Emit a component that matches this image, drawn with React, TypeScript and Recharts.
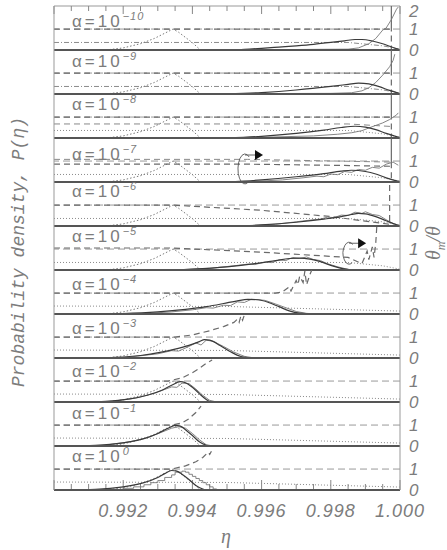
import { LineChart, Line, XAxis, YAxis, ReferenceLine, ReferenceDot } from "recharts";

type Pt = { x: number; y: number };
const P = (x: number, y: number): Pt => ({ x, y });

// eta axis
const etaDomain = [0.99, 1.0];
const etaLabelTicks = [0.992, 0.994, 0.996, 0.998, 1.0];
const etaMajorTicks = [0.990, 0.992, 0.994, 0.996, 0.998, 1.0];
const etaMinorTicks = [
  0.9905, 0.991, 0.9915, 0.9925, 0.993, 0.9935, 0.9945, 0.995, 0.9955,
  0.9965, 0.997, 0.9975, 0.9985, 0.999, 0.9995,
];

const alphaExponents = ["−10", "−9", "−8", "−7", "−6", "−5", "−4", "−3", "−2", "−1", "0"];

// reference distribution (dotted), same in every panel
const dottedPeak = [
  P(0.9915, 0), P(0.992, 0.1), P(0.9925, 0.3), P(0.9929, 0.55), P(0.9932, 0.8),
  P(0.99344, 1.0), P(0.9936, 0.85), P(0.9938, 0.6), P(0.994, 0.35), P(0.9942, 0.05), P(0.99425, 0),
];
const dottedFlatTop = [P(0.99, 0.36), P(0.9985, 0.36), P(0.9995, 0.2), P(1.0, 0.04)];
const dottedFlatBottom = [P(0.99, 0.38), P(0.995, 0.36), P(1.0, 0.14)];

// smooth model curves
const smooth0 = [P(0.995, 0), P(0.9955, 0.03), P(0.996, 0.08), P(0.9965, 0.14), P(0.997, 0.2), P(0.9975, 0.27), P(0.998, 0.36), P(0.9984, 0.44), P(0.9987, 0.5), P(0.9989, 0.5), P(0.9992, 0.43), P(0.9995, 0.3), P(0.9998, 0.12), P(1.0, 0.02)];
const smooth1 = [P(0.995, 0), P(0.996, 0.07), P(0.997, 0.19), P(0.998, 0.36), P(0.9985, 0.46), P(0.9988, 0.52), P(0.9991, 0.48), P(0.9994, 0.35), P(0.9997, 0.17), P(1.0, 0.02)];
const smooth2 = [P(0.995, 0), P(0.996, 0.08), P(0.997, 0.22), P(0.9978, 0.38), P(0.9983, 0.5), P(0.9987, 0.56), P(0.999, 0.52), P(0.9993, 0.4), P(0.9996, 0.22), P(1.0, 0.02)];
const smooth3 = [P(0.995, 0), P(0.996, 0.1), P(0.997, 0.25), P(0.9978, 0.4), P(0.9983, 0.52), P(0.9986, 0.56), P(0.999, 0.5), P(0.9993, 0.38), P(0.9996, 0.2), P(1.0, 0.02)];
const smooth4 = [P(0.9953, 0), P(0.996, 0.05), P(0.997, 0.18), P(0.9978, 0.33), P(0.9983, 0.45), P(0.9986, 0.55), P(0.9988, 0.6), P(0.999, 0.58), P(0.9993, 0.45), P(0.9996, 0.25), P(0.9999, 0.06), P(1.0, 0.01)];
const smooth5 = [P(0.9934, 0), P(0.994, 0.04), P(0.995, 0.15), P(0.9958, 0.3), P(0.9964, 0.45), P(0.9968, 0.55), P(0.9971, 0.57), P(0.9974, 0.52), P(0.9977, 0.4), P(0.998, 0.22), P(0.9983, 0.08), P(0.9986, 0.01)];
const smooth6 = [P(0.9912, 0), P(0.992, 0.02), P(0.993, 0.1), P(0.9938, 0.22), P(0.9944, 0.35), P(0.9949, 0.5), P(0.9953, 0.63), P(0.9956, 0.7), P(0.9959, 0.68), P(0.9962, 0.55), P(0.9965, 0.35), P(0.9968, 0.15), P(0.9971, 0.04), P(0.9975, 0)];
const smooth7 = [P(0.991, 0), P(0.9918, 0.03), P(0.9925, 0.12), P(0.9931, 0.28), P(0.9935, 0.42), P(0.9939, 0.6), P(0.9942, 0.78), P(0.99435, 0.88), P(0.9945, 0.85), P(0.9948, 0.6), P(0.9951, 0.3), P(0.9954, 0.07), P(0.9957, 0)];
const smooth8 = [P(0.9908, 0), P(0.9915, 0.03), P(0.9922, 0.15), P(0.9927, 0.32), P(0.9931, 0.55), P(0.9934, 0.8), P(0.99365, 0.97), P(0.9938, 0.92), P(0.994, 0.7), P(0.9942, 0.4), P(0.9944, 0.12), P(0.9945, 0.02), P(0.9946, 0)];
const smooth9 = [P(0.9903, 0), P(0.9912, 0.03), P(0.992, 0.15), P(0.9926, 0.35), P(0.993, 0.6), P(0.9933, 0.85), P(0.9935, 0.98), P(0.99365, 0.95), P(0.9938, 0.78), P(0.994, 0.5), P(0.9942, 0.2), P(0.9944, 0.03), P(0.9945, 0)];
const smooth10 = [P(0.9903, 0), P(0.9912, 0.03), P(0.992, 0.15), P(0.9926, 0.35), P(0.993, 0.6), P(0.9932, 0.78), P(0.9934, 0.93), P(0.99355, 0.9), P(0.9937, 0.75), P(0.9939, 0.5), P(0.9941, 0.22), P(0.9943, 0.05), P(0.9944, 0)];

// simulation curves (thin, noisy)
const sim0 = [P(0.9955, 0), P(0.9975, 0.03), P(0.9985, 0.04), P(0.9988, 0.1), P(0.9991, 0.3), P(0.9993, 0.55), P(0.9995, 0.95), P(0.9996, 1.05), P(0.99975, 1.45), P(0.9999, 1.95), P(0.99995, 2.05)];
const sim1 = [P(0.996, 0.02), P(0.998, 0.03), P(0.9986, 0.06), P(0.9989, 0.15), P(0.9991, 0.3), P(0.9993, 0.55), P(0.9995, 0.9), P(0.9996, 1.1), P(0.9997, 1.3), P(0.9998, 1.6), P(0.99985, 1.9)];
const sim2 = [P(0.9955, 0.01), P(0.9975, 0.1), P(0.9982, 0.18), P(0.9986, 0.25), P(0.9989, 0.35), P(0.9991, 0.48), P(0.9993, 0.6), P(0.9995, 0.72), P(0.9997, 0.88), P(0.9999, 1.1), P(0.99995, 1.2)];
const sim3 = [P(0.9958, 0.03), P(0.9966, 0.1), P(0.9972, 0.2), P(0.9976, 0.28), P(0.9978, 0.25), P(0.998, 0.38), P(0.9982, 0.35), P(0.9984, 0.5), P(0.9986, 0.46), P(0.9988, 0.6), P(0.999, 0.56), P(0.9992, 0.7), P(0.9994, 0.66), P(0.9996, 0.85), P(0.9998, 0.95), P(0.99995, 0.8)];
const sim4 = [P(0.9956, 0.02), P(0.9964, 0.08), P(0.997, 0.2), P(0.9974, 0.28), P(0.9977, 0.33), P(0.9979, 0.42), P(0.9981, 0.4), P(0.9983, 0.52), P(0.9985, 0.5), P(0.9987, 0.66), P(0.9989, 0.6), P(0.999, 0.68), P(0.9992, 0.55), P(0.9994, 0.5), P(0.9996, 0.3), P(0.9998, 0.12), P(1.0, 0.02)];
const sim5 = [P(0.9936, 0.01), P(0.9945, 0.08), P(0.9952, 0.2), P(0.9956, 0.28), P(0.9958, 0.26), P(0.9961, 0.38), P(0.9963, 0.35), P(0.9965, 0.48), P(0.9967, 0.45), P(0.9969, 0.6), P(0.9971, 0.55), P(0.9973, 0.62), P(0.9975, 0.5), P(0.9977, 0.45), P(0.9979, 0.3), P(0.9982, 0.15), P(0.9985, 0.03)];
const sim6 = [P(0.9926, 0.02), P(0.9934, 0.1), P(0.994, 0.2), P(0.9944, 0.3), P(0.9946, 0.28), P(0.9949, 0.42), P(0.9951, 0.4), P(0.9953, 0.58), P(0.9955, 0.55), P(0.9957, 0.7), P(0.9959, 0.68), P(0.9961, 0.65), P(0.9964, 0.48), P(0.9967, 0.3), P(0.997, 0.12), P(0.9973, 0.03), P(0.9976, 0)];
const sim7 = [P(0.9922, 0.05), P(0.993, 0.2), P(0.9934, 0.35), P(0.9936, 0.33), P(0.9939, 0.55), P(0.9941, 0.72), P(0.99425, 0.62), P(0.9944, 0.85), P(0.9946, 0.8), P(0.9949, 0.55), P(0.9952, 0.28), P(0.9955, 0.08), P(0.9958, 0)];
const sim8 = [P(0.9918, 0.06), P(0.9924, 0.2), P(0.9929, 0.42), P(0.9932, 0.6), P(0.9934, 0.72), P(0.99355, 0.7), P(0.9937, 0.9), P(0.9939, 0.88), P(0.9941, 0.62), P(0.9943, 0.32), P(0.9945, 0.08), P(0.9947, 0)];
const sim9 = [P(0.9915, 0.05), P(0.9922, 0.2), P(0.9927, 0.4), P(0.9931, 0.65), P(0.9934, 0.85), P(0.9936, 0.92), P(0.9938, 0.85), P(0.994, 0.6), P(0.9942, 0.3), P(0.9944, 0.06), P(0.9946, 0)];
const sim10 = [P(0.9915, 0.02), P(0.992, 0.08), P(0.9923, 0.15), P(0.9926, 0.25), P(0.9928, 0.35), P(0.993, 0.45), P(0.9932, 0.6), P(0.9934, 0.72), P(0.9935, 0.85), P(0.9937, 0.9), P(0.9938, 0.85), P(0.9939, 0.75), P(0.994, 0.65), P(0.9941, 0.55), P(0.9942, 0.45), P(0.9943, 0.35), P(0.9944, 0.25), P(0.9945, 0.15), P(0.9946, 0.05), P(0.9947, 0)];

// theta_m / theta (dashed)
const theta0 = [P(0.99, 1), P(0.99975, 1), P(0.99975, 2.1), P(0.99975, 0)];
const theta1 = [P(0.99, 1), P(0.99975, 1), P(0.99975, 2.1), P(0.99975, 0)];
const theta2 = [P(0.99, 1), P(0.99975, 1), P(0.99975, 2.1), P(0.99975, 0)];
const theta3 = [P(0.99, 0.85), P(0.9956, 0.85), P(0.998, 0.8), P(0.99975, 0.75), P(0.99975, 2.1), P(0.99975, 0)];
const theta4 = [P(0.99, 1), P(0.9934, 1), P(0.996, 0.75), P(0.998, 0.45), P(0.9997, 0.08), P(0.9997, 2.1)];
const theta5 = [P(0.99, 1.05), P(0.9934, 1.05), P(0.996, 0.85), P(0.9985, 0.6), P(0.9989, 0.3), P(0.99905, 0.9), P(0.9991, 0.5), P(0.9992, 1.1), P(0.99925, 0.6), P(0.9993, 1.3), P(0.99933, 2.1)];
const theta6 = [P(0.99, 1), P(0.9964, 1), P(0.9966, 1.05), P(0.9968, 1.3), P(0.99685, 1.1), P(0.997, 1.6), P(0.99705, 1.4), P(0.9971, 1.8), P(0.9972, 1.5), P(0.99725, 2.05), P(0.9973, 1.4), P(0.9974, 1.9), P(0.99745, 2.1)];
const theta7 = [P(0.99, 1), P(0.9935, 1), P(0.994, 1.1), P(0.9945, 1.3), P(0.9949, 1.5), P(0.9952, 1.7), P(0.9953, 1.85), P(0.99535, 1.7), P(0.9954, 2.0), P(0.99545, 1.8), P(0.9955, 2.05)];
const theta8 = [P(0.99, 1), P(0.9933, 1), P(0.9937, 1.15), P(0.994, 1.4), P(0.9942, 1.6), P(0.9944, 1.85), P(0.99457, 2.0)];
const theta9 = [P(0.99, 1), P(0.9934, 1), P(0.9937, 1.1), P(0.9939, 1.3), P(0.9941, 1.6), P(0.99425, 1.9)];
const theta10 = [P(0.99, 1), P(0.9934, 1), P(0.9938, 1.15), P(0.9941, 1.35), P(0.9943, 1.55), P(0.99445, 1.8), P(0.9945, 1.7), P(0.99455, 1.85)];

// extra dashed levels seen in a few panels
const extra2 = [P(0.99, 0.67), P(0.9985, 0.67), P(0.99975, 0.55)];
const extra3 = [P(0.99, 1.08), P(0.9956, 1.08), P(0.99975, 0.95)];

const smoothSets = [smooth0, smooth1, smooth2, smooth3, smooth4, smooth5, smooth6, smooth7, smooth8, smooth9, smooth10];
const simSets = [sim0, sim1, sim2, sim3, sim4, sim5, sim6, sim7, sim8, sim9, sim10];
const thetaSets = [theta0, theta1, theta2, theta3, theta4, theta5, theta6, theta7, theta8, theta9, theta10];
const extraSets: (Pt[] | null)[] = [null, null, extra2, extra3, null, null, null, null, null, null, null];

// rotation arrows (panel index, eta, value)
const arrows = [
  { panel: 3, x: 0.99552, y: 0.62, rx: 7, ry: 15 },
  { panel: 5, x: 0.99853, y: 0.8, rx: 6, ry: 11 },
];

// layout
const W = 447;
const PLOT_TOP = 6;
const PH = 44;
const PAD = 12;
const LEFT = 54;
const RIGHT_W = 47;
const Y_MAX = 2.1;
const labelTops = [15, 55, 98, 148, 185, 230, 278, 322, 365, 407, 450];

const GRAY = "#7c7c7c";
const sans = "'Liberation Sans', Arial, sans-serif";

const ArrowShape = (rx: number, ry: number) => (props: any) => {
  const { cx, cy } = props;
  if (cx == null || cy == null) return <g />;
  const top = cy - ry + 1;
  return (
    <g>
      <path
        d={`M ${cx + rx * 0.6} ${cy - ry * 0.8} A ${rx} ${ry} 0 1 0 ${cx + rx * 0.5} ${cy + ry * 0.86}`}
        fill="none"
        stroke="#555"
        strokeWidth={0.9}
      />
      <line x1={cx} y1={top} x2={cx + rx + 4} y2={top} stroke="#555" strokeWidth={0.9} />
      <path d={`M ${cx + rx + 3} ${top - 5} L ${cx + rx + 11} ${top} L ${cx + rx + 3} ${top + 5} Z`} fill="#111" />
    </g>
  );
};

const RightTick = (props: any) => {
  const { x, y, payload } = props;
  const shift = payload.value === 2 ? 3 : 0;
  return (
    <text x={x} y={y + shift} dy="0.35em" textAnchor="start" fontSize={17} fontStyle="italic" fill={GRAY} fontFamily={sans}>
      {payload.value}
    </text>
  );
};

function Panel({ idx }: { idx: number }) {
  const last = idx === 10;
  const first = idx === 0;
  const axisH = last ? 50 : 0;
  const h = PAD + PH + (last ? axisH : PAD);
  const yTicks = first ? [0, 1, 2] : [0, 1];
  const dotted = idx < 6 ? dottedFlatTop : dottedFlatBottom;
  const extra = extraSets[idx];
  const tickLen = (px: number) => (px / PH) * Y_MAX;

  return (
    <div style={{ position: "absolute", left: 0, top: PLOT_TOP + PH * idx - PAD, width: W, height: h }}>
      <LineChart width={W} height={h} margin={{ top: PAD, right: 0, bottom: last ? 0 : PAD, left: 0 }}>
        <XAxis
          dataKey="x"
          type="number"
          domain={etaDomain}
          allowDataOverflow
          hide={!last}
          height={axisH}
          ticks={etaLabelTicks}
          tickFormatter={(v: number) => v.toFixed(3)}
          tickLine={false}
          axisLine={false}
          tickSize={0}
          tickMargin={14}
          tick={{ fontSize: 18, fontStyle: "italic", fill: GRAY, fontFamily: sans, letterSpacing: 1 }}
        />
        <YAxis yAxisId="l" orientation="left" width={LEFT} domain={[0, Y_MAX]} tick={false} tickLine={false} axisLine={{ stroke: "#999" }} />
        <YAxis
          yAxisId="r"
          orientation="right"
          width={RIGHT_W}
          domain={[0, Y_MAX]}
          ticks={yTicks}
          interval={0}
          tickLine={false}
          axisLine={{ stroke: "#999" }}
          tickSize={0}
          tickMargin={9}
          tick={<RightTick />}
        />

        <ReferenceLine yAxisId="r" y={1} stroke="#9a9a9a" strokeDasharray="7 4" strokeWidth={1} />

        {first && <ReferenceLine yAxisId="r" y={Y_MAX} stroke="#999" strokeWidth={1} />}
        {first &&
          etaMajorTicks.concat(etaMinorTicks).map((t) => (
            <ReferenceLine
              key={`tt${t}`}
              yAxisId="r"
              segment={[{ x: t, y: Y_MAX }, { x: t, y: Y_MAX - tickLen(etaMajorTicks.includes(t) ? 8 : 5) }]}
              stroke="#888"
            />
          ))}
        {last &&
          etaMajorTicks.concat(etaMinorTicks).map((t) => (
            <ReferenceLine
              key={`bt${t}`}
              yAxisId="r"
              segment={[{ x: t, y: 0 }, { x: t, y: tickLen(etaMajorTicks.includes(t) ? 10 : 6) }]}
              stroke="#888"
            />
          ))}

        <Line
          yAxisId="r"
          data={dotted}
          dataKey="y"
          stroke="#8a8a8a"
          strokeWidth={1}
          strokeDasharray={idx < 2 ? "5 2 1 2" : "1 2"}
          dot={false}
          activeDot={false}
          isAnimationActive={false}
        />
        <Line yAxisId="r" data={dottedPeak} dataKey="y" stroke="#7a7a7a" strokeWidth={1} strokeDasharray="1.5 2" dot={false} activeDot={false} isAnimationActive={false} />
        {extra && (
          <Line yAxisId="r" data={extra} dataKey="y" stroke="#888" strokeWidth={1} strokeDasharray="6 4" dot={false} activeDot={false} isAnimationActive={false} />
        )}
        <Line yAxisId="r" data={thetaSets[idx]} dataKey="y" stroke="#6a6a6a" strokeWidth={1.2} strokeDasharray="6 4" dot={false} activeDot={false} isAnimationActive={false} />
        <Line
          yAxisId="r"
          data={simSets[idx]}
          dataKey="y"
          type={last ? "stepAfter" : "linear"}
          stroke="#777"
          strokeWidth={0.9}
          dot={false}
          activeDot={false}
          isAnimationActive={false}
        />
        <Line yAxisId="r" data={smoothSets[idx]} dataKey="y" type="monotone" stroke="#3a3a3a" strokeWidth={1.2} dot={false} activeDot={false} isAnimationActive={false} />

        <ReferenceLine yAxisId="r" y={0} stroke="#555" strokeWidth={1.8} />

        {arrows
          .filter((a) => a.panel === idx)
          .map((a) => (
            <ReferenceDot key={`a${a.x}`} yAxisId="r" x={a.x} y={a.y} r={1} shape={ArrowShape(a.rx, a.ry)} />
          ))}
      </LineChart>
    </div>
  );
}

export default function App() {
  return (
    <div style={{ position: "absolute", left: 0, top: 0, width: W, height: 550, overflow: "hidden", background: "#fff", fontFamily: sans }}>
      {alphaExponents.map((_, i) => (
        <Panel key={i} idx={i} />
      ))}

      {alphaExponents.map((e, i) => (
        <div
          key={`lab${i}`}
          style={{
            position: "absolute",
            left: 72,
            top: labelTops[i] - 2,
            fontSize: 17,
            lineHeight: 1,
            color: GRAY,
            letterSpacing: 3,
            whiteSpace: "nowrap",
          }}
        >
          α=10
          <span style={{ fontSize: 11, fontStyle: "italic", position: "relative", top: -7, letterSpacing: 1 }}>{e}</span>
        </div>
      ))}

      <div
        style={{
          position: "absolute",
          left: 19,
          top: 252,
          transform: "translate(-50%, -50%) rotate(-90deg)",
          fontFamily: "'Liberation Mono', monospace",
          fontStyle: "italic",
          fontSize: 18,
          color: GRAY,
          whiteSpace: "nowrap",
        }}
      >
        Probability density, P(η)
      </div>

      <div
        style={{
          position: "absolute",
          left: 403,
          top: 231,
          width: 60,
          height: 24,
          lineHeight: "24px",
          textAlign: "center",
          transform: "rotate(-90deg)",
          fontFamily: "'Liberation Serif', serif",
          fontStyle: "italic",
          fontSize: 20,
          color: GRAY,
          whiteSpace: "nowrap",
        }}
      >
        θ<span style={{ fontSize: 12, position: "relative", top: 5 }}>m</span>/θ
      </div>

      <div
        style={{
          position: "absolute",
          left: 226,
          top: 536,
          transform: "translate(-50%, -50%)",
          fontFamily: "'Liberation Serif', serif",
          fontStyle: "italic",
          fontSize: 20,
          color: GRAY,
        }}
      >
        η
      </div>
    </div>
  );
}
